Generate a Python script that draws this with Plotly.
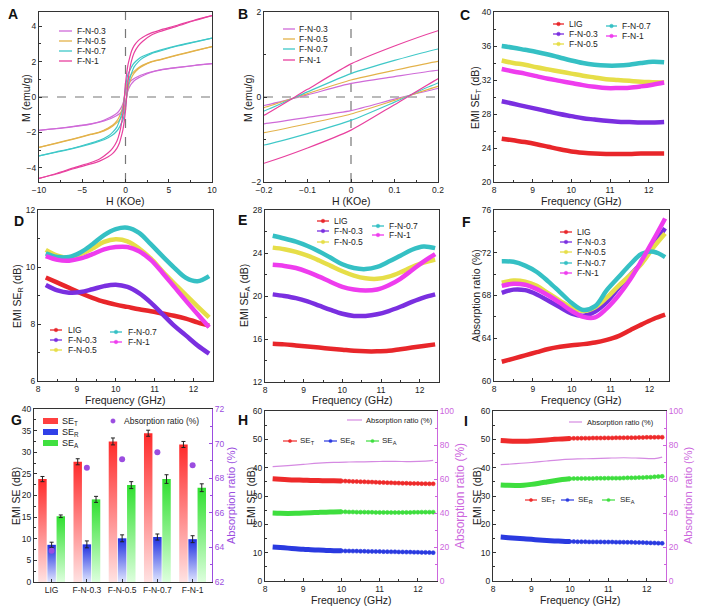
import plotly.graph_objects as go

W, H = 704, 611
FONT = "Liberation Sans, Arial, sans-serif"

# ---------------- data: panels A / B (hysteresis loops) ----------------
H_FIELD = [-10, -8, -6, -4, -3, -2, -1.5, -1, -0.7, -0.5, -0.3, -0.2, -0.1, 0,
           0.1, 0.2, 0.3, 0.5, 0.7, 1, 1.5, 2, 3, 4, 6, 8, 10]
M_FN03_DESC = [-1.88, -1.78, -1.66, -1.52, -1.4, -1.2, -1.08, -0.92, -0.75, -0.6, -0.38, -0.2, 0.05, 0.32,
               0.48, 0.63, 0.7, 0.85, 0.95, 1.05, 1.17, 1.27, 1.42, 1.53, 1.67, 1.79, 1.88]
M_FN03_ASC = [-1.88, -1.79, -1.67, -1.53, -1.42, -1.27, -1.17, -1.05, -0.95, -0.85, -0.7, -0.63, -0.48, -0.32,
              -0.05, 0.2, 0.38, 0.6, 0.75, 0.92, 1.08, 1.2, 1.4, 1.52, 1.66, 1.78, 1.88]
M_FN05_DESC = [-2.85, -2.6, -2.36, -2.1, -1.98, -1.75, -1.6, -1.35, -1.1, -0.85, -0.5, -0.25, 0.08, 0.4,
               0.63, 0.84, 0.97, 1.15, 1.3, 1.45, 1.65, 1.8, 2.0, 2.12, 2.38, 2.62, 2.85]
M_FN05_ASC = [-2.85, -2.62, -2.38, -2.12, -2.0, -1.8, -1.65, -1.45, -1.3, -1.15, -0.97, -0.84, -0.63, -0.4,
              -0.08, 0.25, 0.5, 0.85, 1.1, 1.35, 1.6, 1.75, 1.98, 2.1, 2.36, 2.6, 2.85]
M_FN07_DESC = [-3.32, -3.1, -2.88, -2.6, -2.45, -2.2, -2.0, -1.7, -1.35, -1.05, -0.65, -0.33, 0.12, 0.55,
               0.86, 1.13, 1.3, 1.5, 1.7, 1.92, 2.15, 2.3, 2.5, 2.65, 2.9, 3.12, 3.32]
M_FN07_ASC = [-3.32, -3.12, -2.9, -2.65, -2.5, -2.3, -2.15, -1.92, -1.7, -1.5, -1.3, -1.13, -0.86, -0.55,
              -0.12, 0.33, 0.65, 1.05, 1.35, 1.7, 2.0, 2.2, 2.45, 2.6, 2.88, 3.1, 3.32]
M_FN1_DESC = [-4.6, -4.32, -4.0, -3.7, -3.5, -3.15, -2.9, -2.5, -2.05, -1.6, -0.95, -0.43, 0.18, 0.78,
              1.2, 1.56, 1.85, 2.25, 2.6, 2.9, 3.2, 3.38, 3.62, 3.78, 4.05, 4.35, 4.6]
M_FN1_ASC = [-4.6, -4.35, -4.05, -3.78, -3.62, -3.38, -3.2, -2.9, -2.6, -2.25, -1.85, -1.56, -1.2, -0.78,
             -0.18, 0.43, 0.95, 1.6, 2.05, 2.5, 2.9, 3.15, 3.5, 3.7, 4.0, 4.32, 4.6]
MAG_NAMES = ['F-N-0.3', 'F-N-0.5', 'F-N-0.7', 'F-N-1']

# ---------------- data: panels C-F ----------------
FREQ = [8.2, 8.5, 8.8, 9.1, 9.4, 9.7, 10.0, 10.3, 10.6, 10.9, 11.2, 11.5, 11.8, 12.1, 12.4]
SAMPLES = ['LIG', 'F-N-0.3', 'F-N-0.5', 'F-N-0.7', 'F-N-1']

SET_LIG = [25.1, 24.9, 24.7, 24.45, 24.15, 23.85, 23.6, 23.45, 23.35, 23.3, 23.3, 23.3, 23.35, 23.35, 23.35]
SET_FN03 = [29.5, 29.2, 28.9, 28.6, 28.3, 28.0, 27.75, 27.5, 27.35, 27.2, 27.1, 27.05, 27.0, 27.0, 27.05]
SET_FN05 = [34.3, 34.0, 33.8, 33.5, 33.25, 33.0, 32.75, 32.5, 32.3, 32.1, 32.0, 31.9, 31.8, 31.75, 31.7]
SET_FN07 = [36.0, 35.8, 35.55, 35.3, 35.0, 34.65, 34.3, 34.0, 33.8, 33.7, 33.7, 33.8, 34.0, 34.15, 34.1]
SET_FN1 = [33.3, 33.0, 32.75, 32.45, 32.15, 31.9, 31.65, 31.4, 31.2, 31.05, 31.05, 31.1, 31.25, 31.45, 31.7]

SER_LIG = [9.63, 9.45, 9.27, 9.08, 8.92, 8.78, 8.68, 8.6, 8.52, 8.45, 8.37, 8.29, 8.19, 8.06, 7.94]
SER_FN03 = [9.37, 9.18, 9.1, 9.12, 9.22, 9.33, 9.38, 9.3, 9.08, 8.75, 8.35, 7.94, 7.6, 7.25, 6.96]
SER_FN05 = [10.6, 10.4, 10.33, 10.45, 10.65, 10.88, 10.97, 10.9, 10.65, 10.3, 9.85, 9.43, 9.02, 8.62, 8.23]
SER_FN07 = [10.48, 10.35, 10.35, 10.52, 10.8, 11.12, 11.33, 11.38, 11.2, 10.8, 10.38, 9.98, 9.62, 9.5, 9.68]
SER_FN1 = [10.38, 10.25, 10.22, 10.3, 10.45, 10.62, 10.7, 10.7, 10.55, 10.25, 9.8, 9.31, 8.82, 8.35, 7.89]

SEA_LIG = [15.55, 15.5, 15.4, 15.3, 15.2, 15.1, 15.0, 14.9, 14.85, 14.85, 14.9, 15.05, 15.2, 15.35, 15.5]
SEA_FN03 = [20.15, 20.0, 19.8, 19.5, 19.1, 18.7, 18.35, 18.15, 18.15, 18.3, 18.6, 19.0, 19.45, 19.85, 20.15]
SEA_FN05 = [24.5, 24.35, 24.1, 23.75, 23.3, 22.8, 22.3, 21.9, 21.65, 21.6, 21.8, 22.2, 22.7, 23.1, 23.4]
SEA_FN07 = [25.6, 25.35, 25.05, 24.65, 24.15, 23.55, 22.95, 22.6, 22.5, 22.7, 23.2, 23.75, 24.3, 24.6, 24.45]
SEA_FN1 = [22.9, 22.8, 22.6, 22.25, 21.8, 21.3, 20.85, 20.6, 20.5, 20.6, 21.0, 21.6, 22.4, 23.2, 23.9]

AR_LIG = [61.8, 62.1, 62.4, 62.7, 63.0, 63.2, 63.35, 63.45, 63.6, 63.85, 64.2, 64.75, 65.3, 65.8, 66.2]
AR_FN03 = [68.25, 68.55, 68.5, 68.1, 67.5, 66.9, 66.3, 66.1, 66.5, 67.4, 68.7, 69.9, 71.1, 72.7, 74.3]
AR_FN05 = [69.2, 69.4, 69.3, 68.9, 68.2, 67.5, 66.85, 66.55, 66.9, 67.8, 68.9, 69.9, 71.0, 72.5, 73.8]
AR_FN07 = [71.2, 71.15, 70.8, 70.2, 69.3, 68.3, 67.3, 66.65, 67.0, 68.5, 69.7, 70.9, 71.9, 72.1, 71.6]
AR_FN1 = [68.9, 69.1, 69.0, 68.6, 68.0, 67.3, 66.55, 66.0, 65.95, 66.8, 68.0, 69.5, 71.3, 73.2, 75.2]

# ---------------- data: panel G ----------------
BAR_SET = [23.8, 27.8, 32.5, 34.4, 31.8]
BAR_SET_ERR = [0.6, 0.7, 0.8, 0.7, 0.7]
BAR_SER = [8.6, 8.7, 10.1, 10.4, 9.9]
BAR_SER_ERR = [0.6, 0.8, 0.8, 0.7, 0.8]
BAR_SEA = [15.2, 19.1, 22.4, 23.8, 21.8]
BAR_SEA_ERR = [0.3, 0.7, 0.8, 1.0, 0.9]
BAR_AR = [63.8, 68.6, 69.1, 69.5, 68.75]

# ---------------- data: panels H / I ----------------
F_DENSE = [8.2, 8.4, 8.6, 8.8, 9.0, 9.2, 9.4, 9.6, 9.8, 10.0]
F_BEADS = [10.0, 10.1, 10.2, 10.3, 10.4, 10.5, 10.6, 10.7, 10.8, 10.9, 11.0, 11.1, 11.2,
           11.3, 11.4, 11.5, 11.6, 11.7, 11.8, 11.9, 12.0, 12.1, 12.2, 12.3, 12.4]
F_AR = [8.2, 8.6, 9.0, 9.4, 9.8, 10.2, 10.6, 11.0, 11.4, 11.8, 12.2, 12.4]

H_SET_D = [36.1, 35.9, 35.75, 35.65, 35.6, 35.5, 35.45, 35.4, 35.35, 35.3]
H_SET_B = [35.3, 35.25, 35.2, 35.15, 35.1, 35.05, 35.0, 34.95, 34.9, 34.85, 34.8, 34.75, 34.7,
           34.65, 34.6, 34.55, 34.5, 34.5, 34.45, 34.4, 34.4, 34.35, 34.35, 34.3, 34.3]
H_SEA_D = [24.0, 23.9, 23.85, 23.9, 24.0, 24.1, 24.2, 24.3, 24.35, 24.4]
H_SEA_B = [24.4, 24.4, 24.35, 24.35, 24.3, 24.3, 24.3, 24.25, 24.25, 24.2, 24.2, 24.2, 24.2,
           24.15, 24.15, 24.15, 24.2, 24.2, 24.2, 24.25, 24.25, 24.3, 24.3, 24.3, 24.3]
H_SER_D = [12.0, 11.8, 11.6, 11.4, 11.2, 11.05, 10.9, 10.8, 10.7, 10.65]
H_SER_B = [10.65, 10.6, 10.6, 10.55, 10.55, 10.5, 10.5, 10.45, 10.45, 10.4, 10.4, 10.35, 10.35,
           10.3, 10.3, 10.25, 10.25, 10.2, 10.2, 10.15, 10.15, 10.1, 10.1, 10.05, 10.0]
H_AR = [67.3, 67.9, 68.6, 69.3, 69.8, 70.0, 70.1, 70.3, 70.4, 70.2, 70.5, 71.0]

I_SET_D = [49.6, 49.45, 49.35, 49.35, 49.45, 49.6, 49.8, 50.0, 50.15, 50.3]
I_SET_B = [50.3, 50.35, 50.35, 50.4, 50.4, 50.4, 50.45, 50.45, 50.45, 50.5, 50.5, 50.5, 50.55,
           50.55, 50.55, 50.6, 50.6, 50.6, 50.65, 50.65, 50.7, 50.7, 50.7, 50.75, 50.75]
I_SEA_D = [33.9, 33.75, 33.7, 33.8, 34.1, 34.5, 34.95, 35.4, 35.8, 36.1]
I_SEA_B = [36.1, 36.15, 36.15, 36.2, 36.2, 36.2, 36.2, 36.25, 36.25, 36.25, 36.3, 36.3, 36.3,
           36.3, 36.35, 36.4, 36.4, 36.45, 36.5, 36.5, 36.6, 36.65, 36.75, 36.85, 36.95]
I_SER_D = [15.5, 15.3, 15.1, 14.9, 14.7, 14.5, 14.3, 14.15, 14.0, 13.9]
I_SER_B = [13.9, 13.9, 13.85, 13.85, 13.85, 13.8, 13.8, 13.8, 13.8, 13.75, 13.75, 13.75, 13.7,
           13.7, 13.7, 13.65, 13.65, 13.6, 13.6, 13.55, 13.5, 13.45, 13.4, 13.35, 13.3]
I_AR = [68.4, 69.0, 69.7, 70.6, 71.4, 71.8, 72.0, 72.3, 72.5, 72.3, 72.0, 72.9]

# ---------------- styles ----------------
MAG_COLORS = ['#cf6ad8', '#e3b24a', '#3fc8c8', '#e8409e']
SAMPLE_COLORS = ['#e8262a', '#7a2fe0', '#e6de48', '#35c0c4', '#ee3cee']
C_T, C_R, C_A = '#ee2a2a', '#2a3ae0', '#3ede3e'
AR_G_COLOR = '#9b4de0'
AR_H_COLOR = '#cc66dd'
AX = '#333333'
TICKFONT = 8.5

PANELS = {
    1: ([39, 212], [12, 182]),
    2: ([264, 438], [12, 182]),
    3: ([494, 668], [12, 182]),
    4: ([38, 213], [210, 381]),
    5: ([265, 439], [210, 382]),
    6: ([494, 669], [210, 381]),
    7: ([34, 212], [409, 582]),
    8: ([265, 437], [411, 581]),
    9: ([493, 666], [411, 581]),
}


def xd(px):
    return [px[0] / W, px[1] / W]


def yd(py):
    return [1 - py[1] / H, 1 - py[0] / H]


def sfx(k):
    return '' if k == 1 else str(k)


layout = dict(width=W, height=H, margin=dict(l=0, r=0, t=0, b=0, autoexpand=False),
              paper_bgcolor='white', plot_bgcolor='white', showlegend=False,
              font=dict(family=FONT, size=9, color='#222'))


def make_axes(k, xr, xdt, xminor, yr, ydt, yminor, ymirror=True, xtickvals=None, xticktext=None):
    xdom, ydom = PANELS[k]
    xa = dict(domain=xd(xdom), range=xr, anchor='y' + sfx(k), showgrid=False, zeroline=False,
              automargin=False, showline=True, linecolor=AX, linewidth=1, mirror=True, ticks='inside',
              ticklen=3, tickcolor=AX, tickfont=dict(size=TICKFONT))
    if xdt is not None:
        xa['dtick'] = xdt
        xa['minor'] = dict(dtick=xminor, ticks='inside', ticklen=2, tickcolor=AX)
    if xtickvals is not None:
        xa['tickmode'] = 'array'
        xa['tickvals'] = xtickvals
        xa['ticktext'] = xticktext
    ya = dict(domain=yd(ydom), range=yr, anchor='x' + sfx(k), showgrid=False, zeroline=False,
              automargin=False, showline=True, linecolor=AX, linewidth=1, mirror=ymirror, ticks='inside',
              ticklen=3, tickcolor=AX, tickfont=dict(size=TICKFONT), dtick=ydt,
              minor=dict(dtick=yminor, ticks='inside', ticklen=2, tickcolor=AX))
    layout['xaxis' + sfx(k)] = xa
    layout['yaxis' + sfx(k)] = ya


make_axes(1, [-10, 10], 5, 2.5, [-4.8, 4.8], 2, 1)
make_axes(2, [-0.2, 0.2], 0.1, 0.05, [-2, 2], 2, 1)
make_axes(3, [8, 12.5], 1, 0.5, [20, 40], 4, 2)
make_axes(4, [8, 12.5], 1, 0.5, [6, 12], 2, 1)
make_axes(5, [8, 12.5], 1, 0.5, [12, 28], 4, 2)
make_axes(6, [8, 12.5], 1, 0.5, [60, 76], 4, 2)
make_axes(7, [-0.5, 4.55], None, None, [0, 40], 5, 2.5, ymirror=False,
          xtickvals=[0, 1, 2, 3, 4], xticktext=SAMPLES)
make_axes(8, [8, 12.5], 1, 0.5, [0, 60], 10, 5, ymirror=False)
make_axes(9, [8, 12.5], 1, 0.5, [0, 60], 10, 5, ymirror=False)


def right_axis(idx, k, rng, dt, mdt, color):
    layout['yaxis' + str(idx)] = dict(
        domain=yd(PANELS[k][1]), range=rng, overlaying='y' + sfx(k), anchor='x' + sfx(k), side='right',
        automargin=False, showgrid=False, zeroline=False, showline=True, linecolor=color, linewidth=1.2,
        ticks='inside', ticklen=3, tickcolor=color, dtick=dt, tickfont=dict(size=TICKFONT, color=color),
        minor=dict(dtick=mdt, ticks='inside', ticklen=2, tickcolor=color))


right_axis(10, 7, [62, 72], 2, 1, AR_G_COLOR)
right_axis(11, 8, [0, 100], 20, 10, AR_H_COLOR)
right_axis(12, 9, [0, 100], 20, 10, AR_H_COLOR)

fig = go.Figure()

# ---- A and B ----
mag_desc = [M_FN03_DESC, M_FN05_DESC, M_FN07_DESC, M_FN1_DESC]
mag_asc = [M_FN03_ASC, M_FN05_ASC, M_FN07_ASC, M_FN1_ASC]
for k in (1, 2):
    for name, col, md, ma in zip(MAG_NAMES, MAG_COLORS, mag_desc, mag_asc):
        for branch in (md, ma):
            fig.add_trace(go.Scatter(x=H_FIELD, y=branch, mode='lines', name=name,
                                     line=dict(color=col, width=1.2, shape='spline', smoothing=0.6),
                                     xaxis='x' + sfx(k), yaxis='y' + sfx(k), cliponaxis=True))

# ---- C-F ----
series_sets = {
    3: [SET_LIG, SET_FN03, SET_FN05, SET_FN07, SET_FN1],
    4: [SER_LIG, SER_FN03, SER_FN05, SER_FN07, SER_FN1],
    5: [SEA_LIG, SEA_FN03, SEA_FN05, SEA_FN07, SEA_FN1],
    6: [AR_LIG, AR_FN03, AR_FN05, AR_FN07, AR_FN1],
}
for k, sets in series_sets.items():
    for name, col, vals in zip(SAMPLES, SAMPLE_COLORS, sets):
        fig.add_trace(go.Scatter(x=FREQ, y=vals, mode='lines', name=name,
                                 line=dict(color=col, width=4.5, shape='spline'),
                                 xaxis='x' + sfx(k), yaxis='y' + sfx(k)))

# ---- G ----
BW = 0.24
bar_specs = [
    (BAR_SET, BAR_SET_ERR, '#ff2b2b', '#ffe2e2', -0.26, 'SE_T'),
    (BAR_SER, BAR_SER_ERR, '#1f2fe0', '#dfe5ff', 0.0, 'SE_R'),
    (BAR_SEA, BAR_SEA_ERR, '#2fe02f', '#ddffdd', 0.26, 'SE_A'),
]
for vals, errs, top, bottom, off, nm in bar_specs:
    for i, v in enumerate(vals):
        fig.add_trace(go.Scatter(x=[i + off - BW / 2, i + off + BW / 2], y=[v, v], mode='lines',
                                 line=dict(width=0, color=top), fill='tozeroy', fillcolor=top,
                                 fillgradient=dict(type='vertical', colorscale=[[0, bottom], [1, top]]),
                                 name=nm, xaxis='x7', yaxis='y7', hoverinfo='skip'))
    fig.add_trace(go.Scatter(x=[i + off for i in range(len(vals))], y=vals, mode='markers',
                             marker=dict(size=1, color='rgba(0,0,0,0)'),
                             error_y=dict(type='data', array=errs, color='#222', thickness=1, width=2),
                             xaxis='x7', yaxis='y7', name=nm + ' error'))
fig.add_trace(go.Scatter(x=[0, 1, 2, 3, 4], y=BAR_AR, mode='markers', name='Absorption ratio (%)',
                         marker=dict(size=6, color=AR_G_COLOR), xaxis='x7', yaxis='y10'))

# ---- H and I ----
for k, ry, dense, beads, ar in (
        (8, 'y11', (H_SET_D, H_SER_D, H_SEA_D), (H_SET_B, H_SER_B, H_SEA_B), H_AR),
        (9, 'y12', (I_SET_D, I_SER_D, I_SEA_D), (I_SET_B, I_SER_B, I_SEA_B), I_AR)):
    fig.add_trace(go.Scatter(x=F_AR, y=ar, mode='lines', name='Absorption ratio (%)',
                             line=dict(color='#d58ae2', width=1.2, shape='spline'),
                             xaxis='x' + sfx(k), yaxis=ry))
    for col, d, b, nm in zip((C_T, C_R, C_A), dense, beads, ('SE_T', 'SE_R', 'SE_A')):
        fig.add_trace(go.Scatter(x=F_DENSE, y=d, mode='lines', name=nm,
                                 line=dict(color=col, width=5, shape='spline'),
                                 xaxis='x' + sfx(k), yaxis='y' + sfx(k)))
        fig.add_trace(go.Scatter(x=F_BEADS, y=b, mode='lines+markers', name=nm,
                                 line=dict(color=col, width=1),
                                 marker=dict(size=4, color=col, line=dict(width=0.6, color=col)),
                                 xaxis='x' + sfx(k), yaxis='y' + sfx(k)))

# ---------------- decorations: zero lines, titles, legends, panel letters ----------------
shapes = []
annotations = []
for k in (1, 2):
    shapes.append(dict(type='line', xref='x' + sfx(k), yref='y' + sfx(k) + ' domain', x0=0, x1=0, y0=0, y1=1,
                       line=dict(color='#777', width=1.2, dash='dash'), layer='below'))
    shapes.append(dict(type='line', xref='x' + sfx(k) + ' domain', yref='y' + sfx(k), x0=0, x1=1, y0=0, y1=0,
                       line=dict(color='#777', width=1.2, dash='dash'), layer='below'))


def P(x, y):
    return x / W, 1 - y / H


def text_at(x, y, text, size, color='#222', angle=0, xanchor='center'):
    px, py = P(x, y)
    annotations.append(dict(xref='paper', yref='paper', x=px, y=py, text=text, showarrow=False,
                            xanchor=xanchor, yanchor='middle', textangle=angle, borderpad=0,
                            font=dict(size=size, color=color, family=FONT)))


# axis titles
X_TITLES = [('H (KOe)', 125, 201), ('H (KOe)', 351, 201), ('Frequency (GHz)', 581, 201),
            ('Frequency (GHz)', 125, 400), ('Frequency (GHz)', 352, 400), ('Frequency (GHz)', 581, 400),
            ('Frequency (GHz)', 351, 600), ('Frequency (GHz)', 580, 600)]
for t, x, y in X_TITLES:
    text_at(x, y, t, 10.5)
Y_TITLES = [('M (emu/g)', 26, 98, '#222', 10.5), ('M (emu/g)', 248, 98, '#222', 10.5),
            ('EMI SE<sub>T</sub> (dB)', 476, 98, '#222', 10.5),
            ('EMI SE<sub>R</sub> (dB)', 18, 296, '#222', 10.5),
            ('EMI SE<sub>A</sub> (dB)', 245, 296, '#222', 10.5),
            ('Absorption ratio (%)', 476, 296, '#222', 10.5),
            ('EMI SE (dB)', 16, 496, '#222', 10.5), ('EMI SE (dB)', 251, 496, '#222', 10.5),
            ('EMI SE (dB)', 477, 496, '#222', 10.5),
            ('Absorption ratio (%)', 231, 496, AR_G_COLOR, 11),
            ('Absorption ratio (%)', 460, 496, AR_H_COLOR, 12),
            ('Absorption ratio (%)', 688, 496, AR_H_COLOR, 11)]
for t, x, y, c, s in Y_TITLES:
    text_at(x, y, t, s, c, angle=-90)


def leg_text(x, y, text, size=8.5, color='#222'):
    text_at(x, y, text, size, color, xanchor='left')


def leg_line(x0, x1, y, color, width=1.3, dot=None):
    a0, b0 = P(x0, y)
    a1, _ = P(x1, y)
    shapes.append(dict(type='line', xref='paper', yref='paper', x0=a0, x1=a1, y0=b0, y1=b0,
                       line=dict(color=color, width=width)))
    if dot:
        cx = (x0 + x1) / 2
        c0, d0 = P(cx - dot, y + dot)
        c1, d1 = P(cx + dot, y - dot)
        shapes.append(dict(type='circle', xref='paper', yref='paper', x0=c0, x1=c1, y0=d0, y1=d1,
                           fillcolor=color, line=dict(color=color, width=0.5)))


def leg_rect(x0, x1, yc, color):
    a0, b0 = P(x0, yc + 3)
    a1, b1 = P(x1, yc - 3)
    shapes.append(dict(type='rect', xref='paper', yref='paper', x0=a0, x1=a1, y0=b0, y1=b1,
                       fillcolor=color, line=dict(width=0)))


# A / B legends
for (sx0, sx1, tx, ys) in ((59, 72, 76, (31, 41, 51, 61)), (283, 295, 298, (29, 39, 49, 60))):
    for name, col, y in zip(MAG_NAMES, MAG_COLORS, ys):
        leg_line(sx0, sx1, y, col, 1.3)
        leg_text(tx, y, name)

# C-F legends: (sample index, line x0, x1, text x, y)
leg_C = [(0, 553, 564, 568, 24), (1, 553, 564, 568, 34), (2, 553, 564, 568, 44),
         (3, 606, 617, 621, 26), (4, 606, 617, 621, 36)]
leg_D = [(0, 50, 62, 67, 330), (1, 50, 62, 67, 340), (2, 50, 62, 67, 350),
         (3, 110, 122, 127, 332), (4, 110, 122, 127, 342)]
leg_E = [(0, 317, 329, 333, 221), (1, 317, 329, 333, 231), (2, 317, 329, 333, 242),
         (3, 372, 384, 388, 226), (4, 372, 384, 388, 235)]
leg_F = [(0, 560, 572, 576, 232), (1, 560, 572, 576, 242), (2, 560, 572, 576, 252),
         (3, 560, 572, 576, 263), (4, 560, 572, 576, 273)]
for entries in (leg_C, leg_D, leg_E, leg_F):
    for i, x0, x1, tx, y in entries:
        leg_line(x0, x1, y, SAMPLE_COLORS[i], 1.3, dot=1.8)
        leg_text(tx, y, SAMPLES[i])

# G legend
for (col, y, txt) in (('#ff4040', 421, 'SE<sub>T</sub>'), ('#3040e8', 432, 'SE<sub>R</sub>'),
                      ('#40e040', 443, 'SE<sub>A</sub>')):
    leg_rect(43, 58, y, col)
    leg_text(61, y, txt, 9)
leg_line(110, 116, 421, AR_G_COLOR, 0.1, dot=2.2)
leg_text(123, 421, 'Absorption ratio (%)', 8.5)

# H legend
leg_line(347, 362, 420, '#d58ae2', 1.2)
leg_text(365, 420, 'Absorption ratio (%)', 7.5)
for (x0, x1, tx, col, txt) in ((283, 297, 299, C_T, 'SE<sub>T</sub>'), (324, 337, 339, C_R, 'SE<sub>R</sub>'),
                               (366, 379, 381, C_A, 'SE<sub>A</sub>')):
    leg_line(x0, x1, 441, col, 1.2, dot=1.6)
    leg_text(tx, 441, txt, 8)

# I legend
leg_line(569, 582, 422, '#d58ae2', 1.2)
leg_text(586, 422, 'Absorption ratio (%)', 7.5)
for (x0, x1, tx, col, txt) in ((525, 537, 540, C_T, 'SE<sub>T</sub>'), (561, 574, 577, C_R, 'SE<sub>R</sub>'),
                               (602, 615, 619, C_A, 'SE<sub>A</sub>')):
    leg_line(x0, x1, 500, col, 1.2, dot=1.6)
    leg_text(tx, 500, txt, 8)

# panel letters
for letter, x, y in (('A', 7, 14), ('B', 237, 14), ('C', 459, 15), ('D', 13, 221), ('E', 237, 220),
                     ('F', 461, 222), ('G', 10, 420), ('H', 237, 420), ('I', 463, 421)):
    text_at(x, y, '<b>%s</b>' % letter, 14, '#111', xanchor='left')

layout['shapes'] = shapes
layout['annotations'] = annotations
fig.update_layout(**layout)
fig.update_traces(showlegend=False)
fig.write_html("out.html", config={'displayModeBar': False},
               post_script="document.body.style.margin='0';")
